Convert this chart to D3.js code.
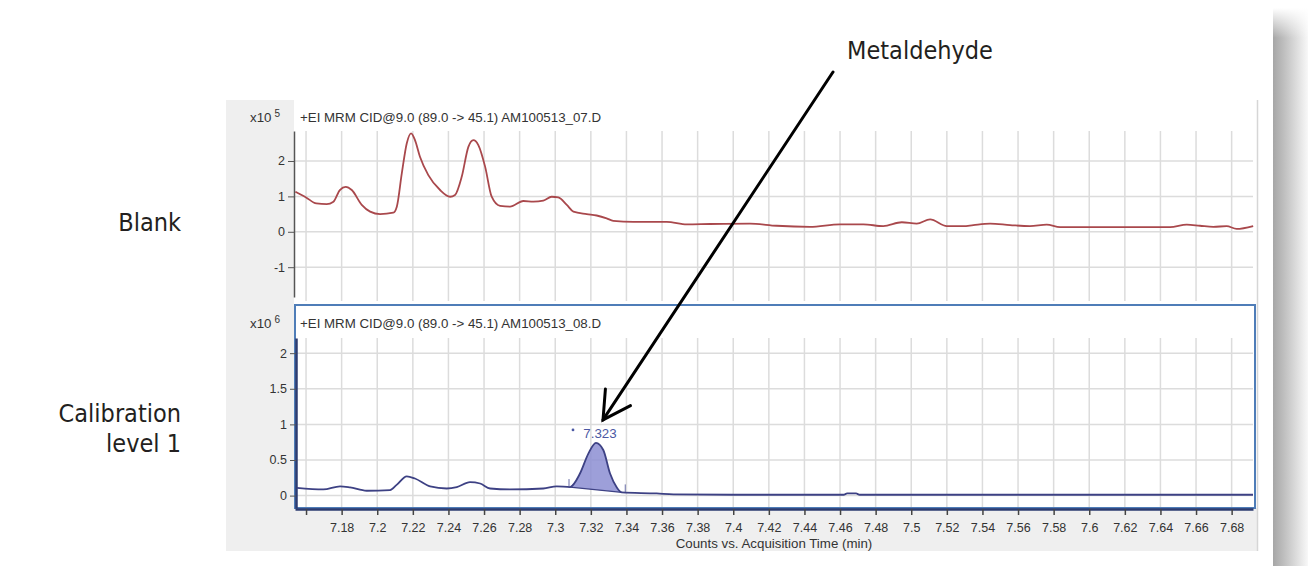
<!DOCTYPE html>
<html>
<head>
<meta charset="utf-8">
<script src="https://d3js.org/d3.v7.min.js"></script>
<style>
  body { margin: 0; background: #fff; }
  svg { display: block; }
  .axis text { font-family: "Liberation Sans", Arial, sans-serif; font-size: 12.5px; fill: #333; }
  .ttl { font-family: "Liberation Sans", Arial, sans-serif; font-size: 13.3px; fill: #333; }
  .note { font-family: "DejaVu Sans", sans-serif; font-stretch: condensed; font-size: 25px; fill: #231f20; }
</style>
</head>
<body>
<svg id="chart" width="1308" height="566"></svg>
<script>
// blank trace, counts x10^5
var blankTime = [7.1540, 7.1600, 7.1658, 7.1716, 7.1754, 7.1790, 7.1823, 7.1857, 7.1913, 7.1960,
  7.2016, 7.2090, 7.2110, 7.2138, 7.2166, 7.2190, 7.2212, 7.2240, 7.2287, 7.2353,
  7.2409, 7.2437, 7.2475, 7.2512, 7.2540, 7.2568, 7.2606, 7.2643, 7.2690, 7.2746,
  7.2821, 7.2877, 7.2933, 7.2980, 7.3017, 7.3065, 7.3102, 7.3177, 7.3233, 7.3289,
  7.3326, 7.3439, 7.3626, 7.3739, 7.3870, 7.4094, 7.4244, 7.4431, 7.4600, 7.4731,
  7.4843, 7.4947, 7.5031, 7.5106, 7.5200, 7.5293, 7.5349, 7.5443, 7.5555, 7.5667,
  7.5761, 7.5836, 7.6154, 7.6454, 7.6548, 7.6622, 7.6697, 7.6772, 7.6828, 7.6921];
var blankCounts = [1.13, 0.97, 0.80, 0.78, 0.85, 1.18, 1.27, 1.18, 0.76, 0.57,
  0.50, 0.54, 0.71, 1.65, 2.50, 2.78, 2.59, 2.12, 1.60, 1.18,
  0.99, 1.04, 1.56, 2.40, 2.59, 2.45, 1.84, 0.99, 0.73, 0.71,
  0.87, 0.85, 0.88, 0.99, 0.97, 0.76, 0.57, 0.50, 0.46, 0.38,
  0.31, 0.28, 0.28, 0.21, 0.22, 0.23, 0.17, 0.14, 0.21, 0.21,
  0.16, 0.27, 0.23, 0.35, 0.16, 0.16, 0.19, 0.23, 0.19, 0.16,
  0.20, 0.13, 0.13, 0.13, 0.20, 0.17, 0.14, 0.16, 0.08, 0.16];

// calibration level 1 trace, counts x10^6
var calTime = [7.1548, 7.1697, 7.1791, 7.1847, 7.1941, 7.2072, 7.2109, 7.2166, 7.2212, 7.2297,
  7.2390, 7.2447, 7.2521, 7.2578, 7.2634, 7.2746, 7.2933, 7.3008, 7.3083, 7.3139,
  7.3186, 7.3229, 7.3270, 7.3308, 7.3346, 7.3374, 7.3570, 7.3664, 7.4000, 7.4620,
  7.4640, 7.4690, 7.4710, 7.6920];
var calCounts = [0.11, 0.087, 0.13, 0.115, 0.068, 0.077, 0.15, 0.27, 0.24, 0.13,
  0.10, 0.12, 0.19, 0.17, 0.10, 0.087, 0.10, 0.13, 0.12, 0.31,
  0.59, 0.74, 0.64, 0.31, 0.115, 0.045, 0.03, 0.017, 0.012, 0.012,
  0.03, 0.03, 0.012, 0.012];

var xTicks = [7.16, 7.18, 7.2, 7.22, 7.24, 7.26, 7.28, 7.3, 7.32, 7.34, 7.36, 7.38, 7.4, 7.42,
  7.44, 7.46, 7.48, 7.5, 7.52, 7.54, 7.56, 7.58, 7.6, 7.62, 7.64, 7.66, 7.68];
var blankTicks = [-1, 0, 1, 2];
var calTicks = [0, 0.5, 1, 1.5, 2];

// integrated peak
var peakStart = 7.3083, peakEnd = 7.3374, peakApex = 7.3229, peakLabel = "7.323";

var svg = d3.select("#chart");

var x = d3.scaleLinear().domain([7.1538, 7.692]).range([295, 1253]);
var yTop = d3.scaleLinear().domain([-1.842, 2.847]).range([297, 131]);
var yBot = d3.scaleLinear().domain([-0.174, 2.213]).range([508, 338]);

var blank = blankTime.map(function(t, i) { return {t: t, v: blankCounts[i]}; });
var cal = calTime.map(function(t, i) { return {t: t, v: calCounts[i]}; });
var plain = function(d) { return String(d); };

// page shadow on the right
var defs = svg.append("defs");
var g1 = defs.append("linearGradient").attr("id", "shade").attr("x1", 0).attr("x2", 1).attr("y1", 0).attr("y2", 0);
g1.append("stop").attr("offset", 0).attr("stop-color", "#a6a6a6");
g1.append("stop").attr("offset", 0.35).attr("stop-color", "#c2c2c2");
g1.append("stop").attr("offset", 1).attr("stop-color", "#f8f8f8");
var g2 = defs.append("linearGradient").attr("id", "fade").attr("x1", 0).attr("x2", 0).attr("y1", 0).attr("y2", 1);
g2.append("stop").attr("offset", 0).attr("stop-color", "#fff").attr("stop-opacity", 1);
g2.append("stop").attr("offset", 1).attr("stop-color", "#fff").attr("stop-opacity", 0);
svg.append("rect").attr("x", 1273).attr("y", 8).attr("width", 35).attr("height", 558).attr("fill", "url(#shade)");
svg.append("rect").attr("x", 1273).attr("y", 8).attr("width", 35).attr("height", 30).attr("fill", "url(#fade)");

// gray software panel + white plot area
svg.append("rect").attr("x", 226).attr("y", 100).attr("width", 1032).attr("height", 451).attr("fill", "#efefef");
svg.append("rect").attr("x", 294).attr("y", 100).attr("width", 963).attr("height", 408).attr("fill", "#fff");
svg.append("line").attr("x1", 1257.5).attr("x2", 1257.5).attr("y1", 100).attr("y2", 551)
  .attr("stroke", "#d6d6d6").attr("stroke-width", 1.5);

// grids
var grid = svg.append("g").attr("stroke", "#dcdcdc").attr("stroke-width", 1.5);
grid.selectAll(".vt").data(xTicks).join("line")
  .attr("x1", function(d) { return x(d); }).attr("x2", function(d) { return x(d); })
  .attr("y1", 131).attr("y2", 301);
grid.selectAll(".ht").data(blankTicks).join("line")
  .attr("x1", 295).attr("x2", 1253)
  .attr("y1", function(d) { return yTop(d); }).attr("y2", function(d) { return yTop(d); });

// bottom panel frame (selected pane)
svg.append("rect").attr("x", 295).attr("y", 305).attr("width", 960).attr("height", 203)
  .attr("fill", "#fff").attr("stroke", "#4f7db8").attr("stroke-width", 2);
var grid2 = svg.append("g").attr("stroke", "#dcdcdc").attr("stroke-width", 1.5);
grid2.selectAll("line.v").data(xTicks).join("line")
  .attr("x1", function(d) { return x(d); }).attr("x2", function(d) { return x(d); })
  .attr("y1", 338).attr("y2", 507);
grid2.selectAll("line.h").data(calTicks).join("line")
  .attr("x1", 296).attr("x2", 1253)
  .attr("y1", function(d) { return yBot(d); }).attr("y2", function(d) { return yBot(d); });

// axes
var axTop = svg.append("g").attr("class", "axis").attr("transform", "translate(294,0)")
  .call(d3.axisLeft(yTop).tickValues(blankTicks).tickFormat(plain).tickSize(6).tickSizeOuter(0).tickPadding(3));
axTop.select(".domain").attr("stroke", "#555").attr("stroke-width", 1.5);
axTop.selectAll(".tick line").attr("stroke", "#555");

var axBot = svg.append("g").attr("class", "axis").attr("transform", "translate(296,0)")
  .call(d3.axisLeft(yBot).tickValues(calTicks).tickFormat(plain).tickSize(6).tickSizeOuter(0).tickPadding(3));
axBot.select(".domain").attr("stroke", "#2d3c70").attr("stroke-width", 2.5);
axBot.selectAll(".tick line").attr("stroke", "#555");

var axX = svg.append("g").attr("class", "axis").attr("transform", "translate(0,509)")
  .call(d3.axisBottom(x).tickValues(xTicks).tickSize(6).tickSizeOuter(0).tickPadding(8)
    .tickFormat(function(d) { return d === 7.16 ? "" : plain(d); }));
axX.select(".domain").attr("stroke", "#2d3c70").attr("stroke-width", 2.5);
axX.selectAll(".tick line").attr("stroke", "#444").attr("stroke-width", 1.5);

svg.append("text").attr("class", "ttl").attr("x", 774).attr("y", 548).attr("text-anchor", "middle")
  .text("Counts vs. Acquisition Time (min)");

// pane titles
function paneTitle(yb, exp, name) {
  var t = svg.append("text").attr("class", "ttl").attr("x", 250).attr("y", yb);
  t.append("tspan").text("x10");
  t.append("tspan").attr("dx", 3).attr("dy", -5).style("font-size", "10px").text(exp);
  svg.append("text").attr("class", "ttl").attr("x", 300).attr("y", yb).text(name);
}
paneTitle(122, "5", "+EI MRM CID@9.0 (89.0 -> 45.1) AM100513_07.D");
paneTitle(328, "6", "+EI MRM CID@9.0 (89.0 -> 45.1) AM100513_08.D");

// traces
var lineTop = d3.line().x(function(d) { return x(d.t); }).y(function(d) { return yTop(d.v); }).curve(d3.curveMonotoneX);
svg.append("path").datum(blank).attr("d", lineTop)
  .attr("fill", "none").attr("stroke", "#a9484c").attr("stroke-width", 1.8);

var v0 = cal.find(function(d) { return d.t === peakStart; }).v;
var v1 = cal.find(function(d) { return d.t === peakEnd; }).v;
var base = d3.scaleLinear().domain([peakStart, peakEnd]).range([v0, v1]);
var inPeak = cal.filter(function(d) { return d.t >= peakStart && d.t <= peakEnd; });
var area = d3.area().x(function(d) { return x(d.t); })
  .y0(function(d) { return yBot(base(d.t)); }).y1(function(d) { return yBot(d.v); })
  .curve(d3.curveMonotoneX);
svg.append("path").datum(inPeak).attr("d", area).attr("fill", "#8c8ed2").attr("fill-opacity", 0.85);
svg.append("line").attr("x1", x(peakStart)).attr("x2", x(peakEnd))
  .attr("y1", yBot(v0)).attr("y2", yBot(v1)).attr("stroke", "#3d4184").attr("stroke-width", 1.2);
[[peakStart, v0], [peakEnd + 0.0025, v1]].forEach(function(p) {
  svg.append("line").attr("x1", x(p[0]) - 1).attr("x2", x(p[0]) - 1)
    .attr("y1", yBot(p[1]) - 8).attr("y2", yBot(p[1])).attr("stroke", "#6a6fa8").attr("stroke-width", 1);
});

var lineBot = d3.line().x(function(d) { return x(d.t); }).y(function(d) { return yBot(d.v); }).curve(d3.curveMonotoneX);
svg.append("path").datum(cal).attr("d", lineBot)
  .attr("fill", "none").attr("stroke", "#3d4184").attr("stroke-width", 1.8);

// peak label
var apexV = cal.find(function(d) { return d.t === peakApex; }).v;
var ax = x(peakApex), ay = yBot(apexV);
svg.append("circle").attr("cx", ax - 23).attr("cy", ay - 13).attr("r", 1.4).attr("fill", "#4b58a3");
svg.append("text").attr("class", "ttl").attr("x", ax + 4).attr("y", ay - 5).attr("text-anchor", "middle")
  .style("fill", "#4b58a3").text(peakLabel);

// annotations
svg.append("text").attr("class", "note").attr("x", 181).attr("y", 231).attr("text-anchor", "end").text("Blank");
svg.append("text").attr("class", "note").attr("x", 181).attr("y", 422).attr("text-anchor", "end").text("Calibration");
svg.append("text").attr("class", "note").attr("x", 181).attr("y", 452).attr("text-anchor", "end").text("level 1");
svg.append("text").attr("class", "note").attr("x", 920).attr("y", 59).attr("text-anchor", "middle").text("Metaldehyde");

var tip = [ax + 7, ay - 23], tail = [833, 72];
var ang = Math.atan2(tail[1] - tip[1], tail[0] - tip[0]);
var wing = 31, spread = 29 * Math.PI / 180;
var arrow = svg.append("g").attr("stroke", "#000").attr("stroke-width", 3).attr("fill", "none").attr("stroke-linecap", "round");
arrow.append("line").attr("x1", tail[0]).attr("y1", tail[1]).attr("x2", tip[0]).attr("y2", tip[1]);
arrow.append("path").attr("stroke-linejoin", "miter").attr("d",
  "M" + (tip[0] + wing * Math.cos(ang - spread)) + "," + (tip[1] + wing * Math.sin(ang - spread)) +
  "L" + tip[0] + "," + tip[1] +
  "L" + (tip[0] + wing * Math.cos(ang + spread)) + "," + (tip[1] + wing * Math.sin(ang + spread)));
</script>
</body>
</html>
